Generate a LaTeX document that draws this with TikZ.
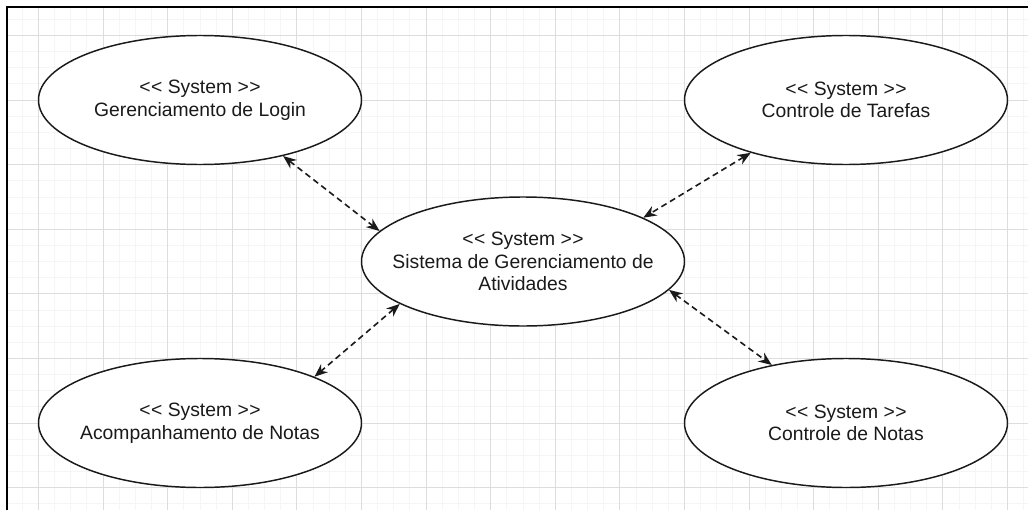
\documentclass[tikz,border=0pt]{standalone}
\usepackage{fontspec}
\setmainfont{Liberation Sans}
\usetikzlibrary{arrows.meta,shapes.geometric}
\definecolor{minorgrid}{HTML}{F5F5F5}
\definecolor{majorgrid}{HTML}{DDDDDD}
\definecolor{ink}{HTML}{1A1A1A}
\newcommand\dlt{<\kern0.3pt<}
\newcommand\dgt{>\kern0.3pt>}
\begin{document}
\begin{tikzpicture}[x=0.75pt,y=-0.75pt,
  sys/.style={ellipse, draw=ink, line width=1.1pt, fill=white, inner sep=0pt,
    minimum width=242.25pt, minimum height=96.75pt},
  systext/.style={align=center, text=ink, inner sep=0pt,
    font=\fontsize{14.5}{17}\selectfont},
  link/.style={draw=ink, line width=1.2pt, dash pattern=on 4.5pt off 3pt,
    {Stealth[length=10pt,width=8pt]}-{Stealth[length=10pt,width=8pt]}}]
\useasboundingbox (0,0) rectangle (1028,510);
\fill[white] (0,0) rectangle (1028,510);
% grid
\foreach \k in {-2,...,61} {\pgfmathsetmacro\xx{38.5+16.15*\k}
  \draw[minorgrid,line width=0.7pt] (\xx,7) -- (\xx,510);}
\foreach \k in {-1,...,29} {\pgfmathsetmacro\yy{35.5+16.15*\k}
  \draw[minorgrid,line width=0.7pt] (7,\yy) -- (1028,\yy);}
\foreach \k in {0,...,15} {\pgfmathsetmacro\xx{38.5+64.6*\k}
  \draw[majorgrid,line width=0.8pt] (\xx,7) -- (\xx,510);}
\foreach \k in {0,...,7} {\pgfmathsetmacro\yy{35.5+64.6*\k}
  \draw[majorgrid,line width=0.8pt] (7,\yy) -- (1028,\yy);}
\draw[line width=1.5pt] (7,510) -- (7,7) -- (1028,7);
% nodes
\node[sys] (login) at (200,100) {};
\node[sys] (tarefas) at (846,100) {};
\node[sys] (central) at (523,261.5) {};
\node[sys] (acomp) at (200,423) {};
\node[sys] (notas) at (846,423) {};
\node[systext] (login-t) at (login.center) {\dlt{} System \dgt\\Gerenciamento de Login};
\node[systext] (tarefas-t) at (tarefas.center) {\dlt{} System \dgt\\Controle de Tarefas};
\node[systext] (central-t) at (central.center) {\dlt{} System \dgt\\Sistema de Gerenciamento de\\Atividades};
\node[systext] (acomp-t) at (acomp.center) {\dlt{} System \dgt\\Acompanhamento de Notas};
\node[systext] (notas-t) at (notas.center) {\dlt{} System \dgt\\Controle de Notas};
% connectors
\draw[link] (login.-34.3) -- (central.168);
\draw[link] (tarefas.209.1) -- (central.20);
\draw[link] (central.199) -- (acomp.22.1);
\draw[link] (central.-11) -- (notas.142.8);
\end{tikzpicture}
\end{document}
